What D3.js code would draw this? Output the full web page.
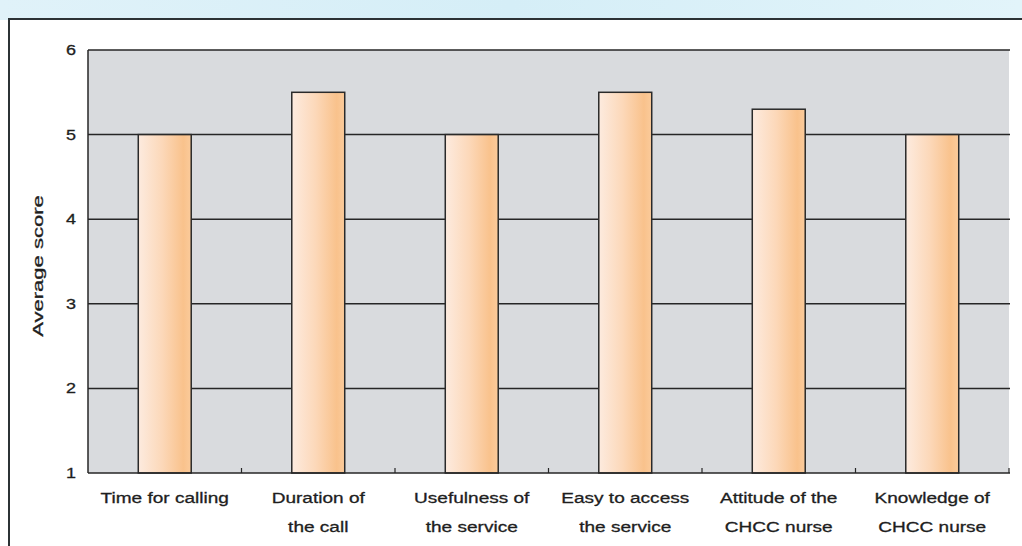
<!DOCTYPE html>
<html>
<head>
<meta charset="utf-8">
<script src="https://cdn.jsdelivr.net/npm/d3@7"></script>
<style>
  html, body { margin: 0; padding: 0; background: #ffffff; }
  svg { display: block; }
  text { font-family: Arial, "Liberation Sans", sans-serif; fill: #1e1e1e; stroke: #1e1e1e; stroke-width: 0.3; }
</style>
</head>
<body>
<svg id="chart" width="1022" height="546"></svg>
<script>
// Survey results: average score per aspect of the telephone service
const categories = [
  ["Time for calling"],
  ["Duration of", "the call"],
  ["Usefulness of", "the service"],
  ["Easy to access", "the service"],
  ["Attitude of the", "CHCC nurse"],
  ["Knowledge of", "CHCC nurse"]
];
const scores = [5.0, 5.5, 5.0, 5.5, 5.3, 5.0];
const yTicks = [1, 2, 3, 4, 5, 6];
const yTitle = "Average score";

const W = 1022, H = 546;
const plot = { left: 88, right: 1009, top: 50, bottom: 473 };

const svg = d3.select("#chart");
const defs = svg.append("defs");

// sky-blue strip behind the framed panel
const sky = defs.append("linearGradient").attr("id", "sky")
  .attr("x1", "0").attr("x2", "1").attr("y1", "0").attr("y2", "0");
sky.append("stop").attr("offset", "0").attr("stop-color", "#e0f2f9");
sky.append("stop").attr("offset", "0.5").attr("stop-color", "#d5eef7");
sky.append("stop").attr("offset", "1").attr("stop-color", "#e2f4fa");

// peach-to-orange fill for the bars
const barGrad = defs.append("linearGradient").attr("id", "barFill")
  .attr("x1", "0").attr("x2", "1").attr("y1", "0").attr("y2", "0");
barGrad.append("stop").attr("offset", "0").attr("stop-color", "#fdebdf");
barGrad.append("stop").attr("offset", "0.45").attr("stop-color", "#fcd8b9");
barGrad.append("stop").attr("offset", "0.85").attr("stop-color", "#f9c28c");
barGrad.append("stop").attr("offset", "1").attr("stop-color", "#fbcb9b");

svg.append("rect").attr("x", 0).attr("y", 0).attr("width", W).attr("height", 20)
  .attr("fill", "url(#sky)");

// white panel with its dark frame
svg.append("rect").attr("x", 9).attr("y", 19).attr("width", W + 10).attr("height", H + 10)
  .attr("fill", "#ffffff").attr("stroke", "#2c3235").attr("stroke-width", 2);

const x = d3.scaleBand()
  .domain(d3.range(categories.length))
  .range([plot.left, plot.right])
  .paddingInner(0.655)
  .paddingOuter(0.3275);

const y = d3.scaleLinear().domain([1, 6]).range([plot.bottom, plot.top]);

// plot background
svg.append("rect")
  .attr("x", plot.left).attr("y", plot.top)
  .attr("width", plot.right - plot.left).attr("height", plot.bottom - plot.top)
  .attr("fill", "#d9dbde");

// horizontal gridlines
svg.append("g")
  .selectAll("line")
  .data(yTicks.filter(d => d > 1))
  .join("line")
  .attr("x1", plot.left).attr("x2", plot.right + 1)
  .attr("y1", d => y(d)).attr("y2", d => y(d))
  .attr("stroke", "#262626").attr("stroke-width", 1.5);

// bars
svg.append("g")
  .selectAll("rect")
  .data(scores)
  .join("rect")
  .attr("x", (d, i) => x(i))
  .attr("y", d => y(d))
  .attr("width", x.bandwidth())
  .attr("height", d => y(1) - y(d))
  .attr("fill", "url(#barFill)")
  .attr("stroke", "#2a2a2a").attr("stroke-width", 1.5);

// left axis line and y tick labels
svg.append("line")
  .attr("x1", plot.left).attr("x2", plot.left)
  .attr("y1", plot.top).attr("y2", plot.bottom)
  .attr("stroke", "#262626").attr("stroke-width", 1.5);

svg.append("g")
  .selectAll("text")
  .data(yTicks)
  .join("text")
  .attr("transform", d => `translate(76,${y(d) + 5}) scale(1.2,1)`)
  .attr("text-anchor", "end")
  .attr("font-size", 15)
  .text(d => d);

// bottom axis with small ticks between categories
const xAxisG = svg.append("g");
xAxisG.append("line")
  .attr("x1", plot.left).attr("x2", plot.right + 1)
  .attr("y1", plot.bottom).attr("y2", plot.bottom)
  .attr("stroke", "#262626").attr("stroke-width", 1.5);
const gap = x.step() * x.paddingInner();
xAxisG.selectAll("line.tick")
  .data(d3.range(1, categories.length + 1))
  .join("line")
  .attr("class", "tick")
  .attr("x1", k => x(k - 1) + x.bandwidth() + gap / 2)
  .attr("x2", k => x(k - 1) + x.bandwidth() + gap / 2)
  .attr("y1", plot.bottom).attr("y2", plot.bottom - 5)
  .attr("stroke", "#262626").attr("stroke-width", 1.2);

// category labels (one or two lines each)
const labelG = svg.append("g");
categories.forEach((lines, i) => {
  const cx = x(i) + x.bandwidth() / 2;
  lines.forEach((line, j) => {
    labelG.append("text")
      .attr("transform", `translate(${cx},${503 + j * 28.5}) scale(1.27,1)`)
      .attr("text-anchor", "middle")
      .attr("font-size", 15)
      .text(line);
  });
});

// y axis title
svg.append("text")
  .attr("transform", "translate(43,266) rotate(-90) scale(1.47,1)")
  .attr("text-anchor", "middle")
  .attr("font-size", 15)
  .text(yTitle);
</script>
</body>
</html>
